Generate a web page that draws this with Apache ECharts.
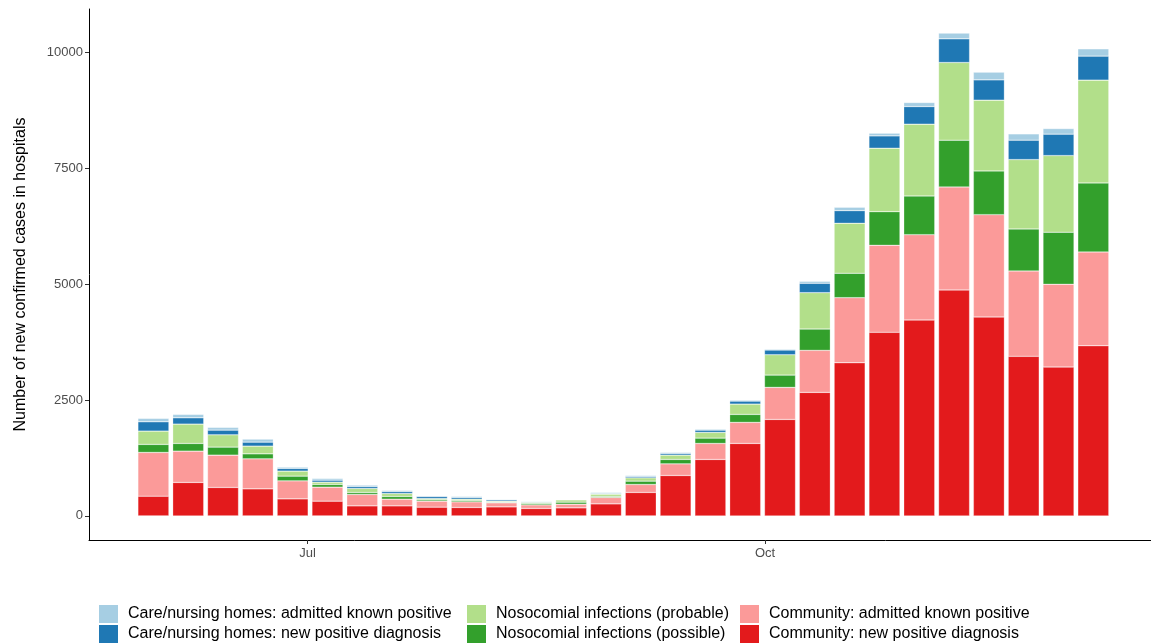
<!DOCTYPE html>
<html>
<head>
<meta charset="utf-8">
<script src="https://cdn.jsdelivr.net/npm/echarts@6/dist/echarts.min.js"></script>
<style>
  html, body { margin: 0; padding: 0; background: #fff; }
  #chart { width: 1151px; height: 643px; }
</style>
</head>
<body>
<div id="chart"></div>
<script>
// Week start dates (one stacked bar per week)
const weeks = [
  '2020-05-31', '2020-06-07', '2020-06-14', '2020-06-21', '2020-06-28',
  '2020-07-05', '2020-07-12', '2020-07-19', '2020-07-26', '2020-08-02',
  '2020-08-09', '2020-08-16', '2020-08-23', '2020-08-30', '2020-09-06',
  '2020-09-13', '2020-09-20', '2020-09-27', '2020-10-04', '2020-10-11',
  '2020-10-18', '2020-10-25', '2020-11-01', '2020-11-08', '2020-11-15',
  '2020-11-22', '2020-11-29', '2020-12-06'
];

// New confirmed cases per week, by source of infection
const communityNew = [425, 721, 613, 583, 367, 317, 216, 216, 188, 181, 194, 160, 173, 259,
  505, 871, 1217, 1562, 2080, 2663, 3302, 3958, 4223, 4871, 4288, 3440, 3209, 3669];
const communityAdmitted = [943, 675, 697, 647, 388, 302, 246, 144, 129, 121, 87, 77, 79, 138,
  172, 251, 345, 454, 691, 906, 1403, 1877, 1841, 2222, 2208, 1841, 1785, 2022];
const nosoPossible = [173, 166, 173, 108, 102, 59, 43, 59, 28, 30, 15, 31, 44, 22,
  72, 95, 115, 172, 265, 460, 526, 725, 835, 1008, 943, 906, 1122, 1489];
const nosoProbable = [287, 417, 265, 166, 108, 49, 86, 64, 30, 28, 21, 21, 49, 49,
  71, 93, 123, 222, 438, 784, 1079, 1368, 1547, 1675, 1525, 1496, 1653, 2216];
const careNew = [201, 136, 101, 86, 58, 43, 43, 43, 44, 37, 28, 13, 8, 15,
  30, 37, 49, 65, 102, 202, 272, 266, 380, 511, 438, 418, 462, 518];
const careAdmitted = [73, 73, 59, 65, 28, 37, 29, 22, 13, 22, 15, 15, 10, 22,
  21, 21, 22, 22, 20, 43, 73, 58, 87, 123, 166, 136, 121, 157];

// Axis ticks
const yTicks = [0, 2500, 5000, 7500, 10000];
const xTickDates = ['2020-07-01', '2020-10-01'];
const xTickLabels = ['Jul', 'Oct'];

const seriesNames = {
  careAdmitted: 'Care/nursing homes: admitted known positive',
  careNew: 'Care/nursing homes: new positive diagnosis',
  nosoProbable: 'Nosocomial infections (probable)',
  nosoPossible: 'Nosocomial infections (possible)',
  communityAdmitted: 'Community: admitted known positive',
  communityNew: 'Community: new positive diagnosis'
};
const colors = {
  careAdmitted: '#a6cee3',
  careNew: '#1f78b4',
  nosoProbable: '#b2df8a',
  nosoPossible: '#33a02c',
  communityAdmitted: '#fb9a99',
  communityNew: '#e31a1c'
};

// Dates sit on a numeric x axis in UTC milliseconds. Each data item is
// [cases, date] so that the case count is the dimension that gets stacked.
const DAY = 86400000;
const ms = s => new Date(s + 'T00:00:00Z').getTime();
const firstWeek = ms(weeks[0]);
const tickTimes = xTickDates.map(ms);

function makeSeries(key, values) {
  return {
    name: seriesNames[key],
    type: 'bar',
    stack: 'cases',
    barWidth: 31,
    encode: { x: 1, y: 0 },
    itemStyle: { color: colors[key], borderColor: 'rgba(255,255,255,0.55)', borderWidth: 0.5 },
    emphasis: { disabled: true },
    data: weeks.map((w, i) => [values[i], ms(w)])
  };
}

const chart = echarts.init(document.getElementById('chart'), null, { renderer: 'canvas' });

const FONT = 'Liberation Sans, Arial, sans-serif';
const legendBase = {
  orient: 'vertical',
  top: 605,
  height: 60,
  padding: 0,
  itemWidth: 19,
  itemHeight: 18,
  itemGap: 2,
  icon: 'rect',
  selectedMode: false,
  itemStyle: { borderWidth: 0 },
  textStyle: { fontFamily: FONT, fontSize: 16, color: '#000', padding: [0, 0, 0, 5] }
};

chart.setOption({
  animation: false,
  backgroundColor: '#fff',
  // the panel runs on past the right edge of the canvas
  grid: { left: 89, top: 9, right: 0, height: 531, containLabel: false },
  legend: [
    Object.assign({}, legendBase, { left: 99, data: [seriesNames.careAdmitted, seriesNames.careNew] }),
    Object.assign({}, legendBase, { left: 467, data: [seriesNames.nosoProbable, seriesNames.nosoPossible] }),
    Object.assign({}, legendBase, { left: 740, data: [seriesNames.communityAdmitted, seriesNames.communityNew] })
  ],
  xAxis: {
    type: 'value',
    min: firstWeek - 12.95 * DAY,
    max: firstWeek + 200.6 * DAY,
    axisLine: { show: true, onZero: false, lineStyle: { color: '#000', width: 1 } },
    axisTick: { show: true, length: 4, customValues: tickTimes, lineStyle: { color: '#333' } },
    axisLabel: {
      customValues: tickTimes,
      margin: 7,
      fontFamily: FONT,
      fontSize: 13,
      color: '#4d4d4d',
      formatter: v => {
        const i = tickTimes.indexOf(v);
        return i >= 0 ? xTickLabels[i] : '';
      }
    },
    splitLine: { show: false }
  },
  yAxis: {
    type: 'value',
    min: -520,
    max: 10930,
    name: 'Number of new confirmed cases in hospitals',
    nameLocation: 'middle',
    nameRotate: 90,
    nameGap: 60,
    nameTextStyle: { fontFamily: FONT, fontSize: 16, color: '#000' },
    axisLine: { show: true, lineStyle: { color: '#000', width: 1 } },
    axisTick: { show: true, length: 4, customValues: yTicks, lineStyle: { color: '#333' } },
    axisLabel: {
      customValues: yTicks,
      margin: 6,
      fontFamily: FONT,
      fontSize: 13,
      color: '#4d4d4d',
      formatter: v => String(v)
    },
    splitLine: { show: false }
  },
  series: [
    makeSeries('communityNew', communityNew),
    makeSeries('communityAdmitted', communityAdmitted),
    makeSeries('nosoPossible', nosoPossible),
    makeSeries('nosoProbable', nosoProbable),
    makeSeries('careNew', careNew),
    makeSeries('careAdmitted', careAdmitted)
  ]
});
</script>
</body>
</html>
